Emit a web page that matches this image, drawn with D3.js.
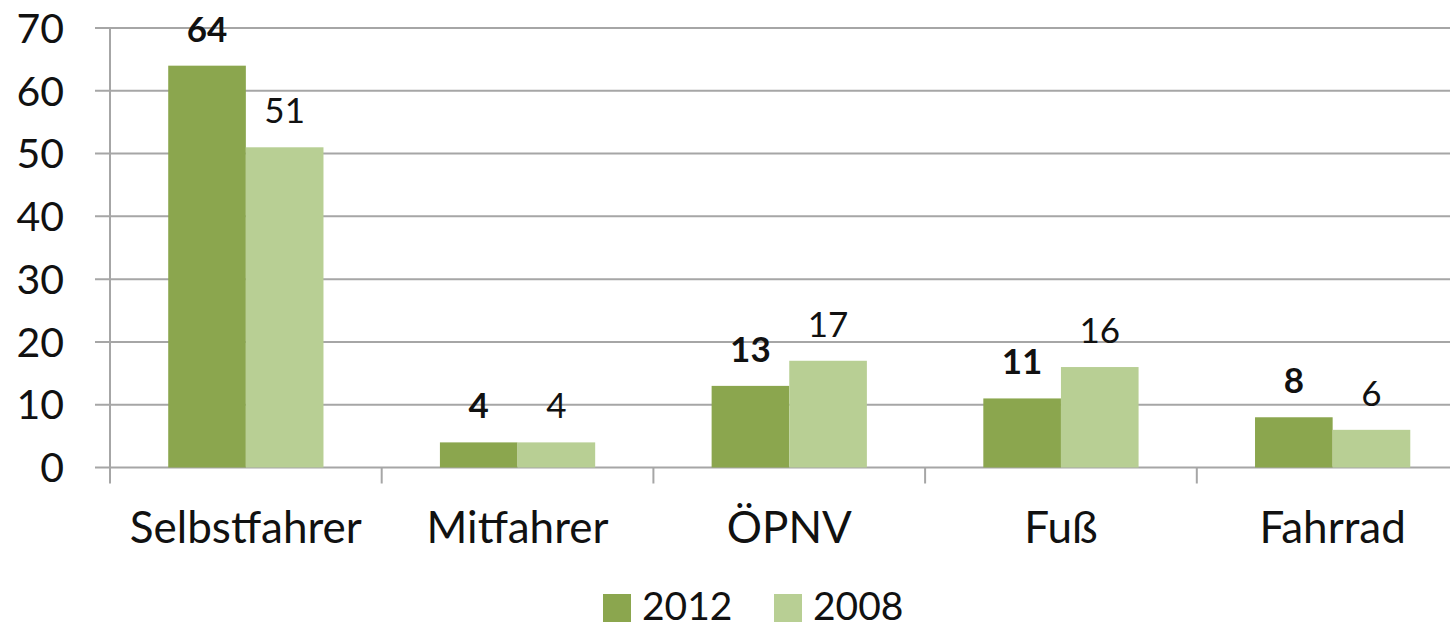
<!DOCTYPE html>
<html>
<head>
<meta charset="utf-8">
<script src="https://cdn.jsdelivr.net/npm/d3@7"></script>
<style>
  body { margin: 0; background: #fff; }
  text { font-family: Lato, "Open Sans", sans-serif; fill: #111; }
</style>
</head>
<body>
<div id="chart"></div>
<script>
// Chart data
var categories = ["Selbstfahrer", "Mitfahrer", "ÖPNV", "Fuß", "Fahrrad"];
var seriesNames = ["2012", "2008"];
var values2012 = [64, 4, 13, 11, 8];
var values2008 = [51, 4, 17, 16, 6];
var yTicks = [0, 10, 20, 30, 40, 50, 60, 70];

var colors = { "2012": "#8ba64e", "2008": "#b8cf94" };

var svgWidth = 1450;
var svgHeight = 629;

// plot area; the right edge runs past the picture like in the original
var plotLeft = 110;
var plotRight = 1468.5;
var plotTop = 28;
var plotBottom = 467.5;

var svg = d3.select("#chart")
    .append("svg")
    .attr("width", svgWidth)
    .attr("height", svgHeight);

var rows = categories.map(function (c, i) {
    return { cat: c, "2012": values2012[i], "2008": values2008[i] };
});

var x0 = d3.scaleBand()
    .domain(categories)
    .range([plotLeft, plotRight])
    .padding(0);

var x1 = d3.scaleBand()
    .domain(seriesNames)
    .range([0, x0.bandwidth()])
    .paddingInner(0)
    .paddingOuter(0.75);

var y = d3.scaleLinear()
    .domain([0, 70])
    .range([plotBottom, plotTop]);

// Gridlines + y labels
var grid = svg.append("g");
grid.selectAll("line")
    .data(yTicks)
    .enter()
    .append("line")
    .attr("x1", 95)
    .attr("x2", svgWidth)
    .attr("y1", d => y(d))
    .attr("y2", d => y(d))
    .attr("stroke", "#a6a6a6")
    .attr("stroke-width", 2);

grid.selectAll("text")
    .data(yTicks)
    .enter()
    .append("text")
    .attr("x", 64)
    .attr("y", d => y(d))
    .attr("dy", "0.36em")
    .attr("text-anchor", "end")
    .attr("font-size", "41px")
    .text(d => d);

// Vertical axis line
svg.append("line")
    .attr("x1", plotLeft)
    .attr("x2", plotLeft)
    .attr("y1", y(70))
    .attr("y2", plotBottom + 16)
    .attr("stroke", "#a6a6a6")
    .attr("stroke-width", 2);

// Category ticks
svg.append("g")
    .selectAll("line")
    .data(categories.slice(1))
    .enter()
    .append("line")
    .attr("x1", d => x0(d))
    .attr("x2", d => x0(d))
    .attr("y1", plotBottom)
    .attr("y2", plotBottom + 16)
    .attr("stroke", "#a6a6a6")
    .attr("stroke-width", 2);

// Bars
var groups = svg.append("g")
    .selectAll("g")
    .data(rows)
    .enter()
    .append("g")
    .attr("transform", d => `translate(${x0(d.cat)},0)`);

groups.selectAll("rect")
    .data(d => seriesNames.map(s => ({ key: s, value: d[s] })))
    .enter()
    .append("rect")
    .attr("x", d => x1(d.key))
    .attr("y", d => y(d.value))
    .attr("width", x1.bandwidth())
    .attr("height", d => plotBottom - y(d.value))
    .attr("fill", d => colors[d.key]);

// Value labels (2012 bold)
groups.selectAll("text")
    .data(d => seriesNames.map(s => ({ key: s, value: d[s] })))
    .enter()
    .append("text")
    .attr("x", d => x1(d.key) + x1.bandwidth() / 2)
    .attr("y", d => y(d.value) - 24)
    .attr("text-anchor", "middle")
    .attr("font-size", "35px")
    .style("font-weight", d => d.key === "2012" ? "bold" : "normal")
    .text(d => d.value);

// Category labels
svg.append("g")
    .selectAll("text")
    .data(categories)
    .enter()
    .append("text")
    .attr("x", d => x0(d) + x0.bandwidth() / 2)
    .attr("y", 543)
    .attr("text-anchor", "middle")
    .attr("font-size", "44px")
    .text(d => d);

// Legend
var legendX = [603, 774];
var legend = svg.append("g")
    .selectAll("g")
    .data(seriesNames)
    .enter()
    .append("g")
    .attr("transform", (d, i) => `translate(${legendX[i]},0)`);

legend.append("rect")
    .attr("x", 0)
    .attr("y", 594)
    .attr("width", 28)
    .attr("height", 28)
    .attr("fill", d => colors[d]);

legend.append("text")
    .attr("x", 39)
    .attr("y", 620)
    .attr("font-size", "39px")
    .text(d => d);
</script>
</body>
</html>
